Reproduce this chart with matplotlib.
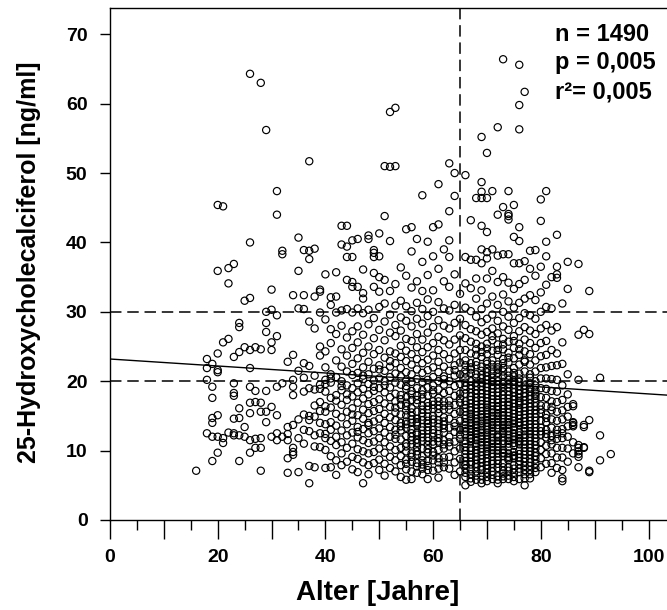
import matplotlib
matplotlib.use('Agg')
import matplotlib.pyplot as plt

plt.rcParams['font.family'] = ['Liberation Sans', 'DejaVu Sans']
plt.rcParams['font.weight'] = 'bold'

# Alter in Jahren (ganzzahlig) und die 25-OH-D Werte je Alter
alter = [16, 18, 19, 20, 21, 22, 23, 24, 25, 26, 27, 28, 29, 30, 31, 32, 33, 34, 35,
         36, 37, 38, 39, 40, 41, 42, 43, 44, 45, 46, 47, 48, 49, 50, 51, 52, 53, 54,
         55, 56, 57, 58, 59, 60, 61, 62, 63, 64, 65, 66, 67, 68, 69, 70, 71, 72, 73,
         74, 75, 76, 77, 78, 79, 80, 81, 82, 83, 84, 85, 86, 87, 88, 89, 91, 93]

vitd = [
    [7.1],
    [23.2, 21.9, 20.2, 12.5],
    [22.5, 19.2, 17.6, 14.7, 14.0, 12.0, 8.5],
    [45.4, 35.9, 24.0, 21.6, 21.3, 15.1, 12.0, 9.7],
    [45.2, 25.6, 11.8, 11.1],
    [36.3, 34.1, 26.1, 12.6],
    [36.9, 23.5, 19.7, 18.3, 17.9, 14.6, 12.5, 12.2],
    [28.4, 27.8, 24.2, 16.1, 14.7, 12.2, 8.5],
    [31.6, 24.9, 12.0, 13.4],
    [64.3, 40.0, 32.0, 24.5, 21.9, 19.2, 16.9, 15.4, 11.5, 9.7],
    [24.9, 18.6, 17.0, 11.7, 10.4],
    [63.0, 24.6, 16.9, 15.6, 11.8, 10.4, 7.1],
    [56.2, 30.0, 28.4, 27.1, 18.6, 15.6, 14.1],
    [33.2, 30.3, 25.6, 24.5, 16.3, 12.0],
    [47.4, 44.0, 29.5, 26.5, 19.2, 15.1, 12.5, 11.5],
    [38.8, 38.3, 19.7, 12.0],
    [22.8, 13.4, 12.4, 11.5, 8.9, 6.8],
    [32.4, 23.8, 20.2, 19.2, 18.0, 13.7, 9.8, 9.4, 10.4],
    [40.7, 35.9, 30.5, 21.5, 14.5, 11.8, 6.9],
    [38.9, 32.4, 30.4, 22.6, 20.5, 15.2, 13.0, 11.0, 18.5],
    [51.7, 38.8, 37.6, 28.6, 22.2, 19.0, 15.0, 7.8, 5.3, 12.8, 14.4],
    [39.1, 32.2, 27.6, 20.8, 18.8, 16.5, 14.9, 12.2, 7.6, 10.6],
    [33.2, 32.9, 29.9, 25.0, 23.7, 19.5, 18.9, 17.0, 14.0, 12.5, 10.5, 15.7],
    [35.4, 28.9, 24.3, 22.0, 20.2, 18.5, 16.4, 15.6, 13.8, 12.4, 11.8, 10.1, 7.5, 19.6],
    [32.1, 31.0, 27.5, 25.5, 21.0, 19.8, 17.6, 16.2, 14.1, 13.0, 11.4, 9.2, 7.6, 20.4],
    [35.7, 32.2, 29.9, 26.8, 23.0, 20.6, 18.0, 15.3, 13.6, 12.0, 10.8, 8.6, 6.5, 17.2],
    [42.4, 39.7, 30.2, 28.0, 24.6, 22.1, 20.0, 18.7, 16.6, 14.8, 12.9, 11.2, 9.6, 7.9, 19.3],
    [42.4, 39.4, 37.9, 34.6, 30.4, 26.3, 23.7, 21.4, 19.4, 17.3, 15.6, 13.8, 12.2, 10.4, 8.4, 18.1],
    [40.3, 37.9, 34.3, 33.6, 29.9, 27.2, 24.8, 22.5, 20.9, 19.0, 17.8, 16.1, 14.3, 12.6, 11.0, 9.1, 7.3, 15.2],
    [40.5, 33.6, 30.5, 27.9, 25.6, 23.3, 21.2, 19.7, 18.4, 16.9, 15.1, 13.4, 11.9, 10.2, 8.8, 6.9, 12.7],
    [36.1, 32.7, 31.9, 29.8, 26.7, 24.1, 22.0, 20.3, 18.9, 17.5, 15.9, 14.6, 13.1, 11.5, 9.9, 8.3, 5.3, 20.8],
    [41.0, 40.5, 30.3, 28.2, 25.0, 22.8, 21.0, 19.6, 18.1, 16.7, 15.4, 14.0, 12.5, 11.1, 9.6, 7.9, 6.6, 13.7],
    [38.9, 38.5, 37.9, 35.6, 33.6, 29.1, 26.2, 23.9, 21.8, 20.1, 18.6, 17.0, 15.7, 14.2, 12.8, 11.3, 9.8, 8.2, 19.2],
    [41.3, 38.0, 35.0, 32.9, 30.7, 27.4, 24.5, 22.3, 20.4, 19.0, 17.4, 16.0, 14.6, 13.2, 11.8, 10.3, 8.7, 7.2, 21.7],
    [51.0, 43.8, 34.6, 31.2, 28.6, 25.9, 23.4, 21.5, 20.0, 18.4, 16.8, 15.3, 14.0, 12.6, 11.2, 9.7, 8.1, 6.4, 19.4],
    [58.8, 50.9, 40.2, 33.0, 29.6, 27.0, 24.3, 22.1, 20.6, 19.1, 17.7, 16.3, 14.8, 13.4, 12.0, 10.6, 9.1, 7.5, 22.9],
    [59.4, 51.0, 34.0, 30.9, 28.1, 26.5, 24.0, 22.6, 21.1, 19.8, 18.2, 17.1, 15.5, 14.4, 13.0, 11.7, 10.1, 8.6, 7.0, 16.2, 12.3],
    [36.4, 31.6, 29.2, 27.3, 25.1, 23.5, 21.9, 20.7, 19.5, 18.0, 16.6, 15.2, 14.0, 12.9, 11.6, 10.4, 9.2, 7.9, 6.2, 13.5, 17.4],
    [41.9, 35.2, 30.8, 28.7, 26.1, 24.4, 22.9, 21.3, 20.1, 18.9, 17.7, 16.4, 15.1, 14.2, 13.3, 12.1, 11.0, 9.9, 8.7, 7.3, 5.8, 19.3, 15.8],
    [42.2, 38.7, 33.5, 30.1, 27.9, 25.8, 23.9, 22.4, 21.0, 19.9, 18.6, 17.3, 16.1, 15.0, 14.0, 13.1, 12.0, 10.9, 9.6, 8.4, 7.0, 5.9, 14.5, 11.5],
    [40.5, 34.4, 31.3, 29.0, 26.8, 24.9, 23.2, 21.7, 20.3, 19.0, 17.9, 16.8, 15.6, 14.6, 13.6, 12.6, 11.6, 10.5, 9.4, 8.2, 6.8, 13.9, 9.9, 12.3],
    [46.8, 37.2, 33.0, 30.4, 28.3, 26.0, 24.2, 22.6, 21.2, 19.9, 18.7, 17.5, 16.5, 15.4, 14.4, 13.4, 12.4, 11.4, 10.3, 9.2, 8.0, 6.6, 15.9, 11.9, 7.4],
    [40.1, 35.3, 31.8, 29.4, 27.0, 24.9, 23.1, 21.6, 20.2, 19.1, 17.9, 16.9, 15.9, 14.9, 13.9, 12.9, 11.9, 10.8, 9.7, 8.5, 7.2, 5.9, 14.3, 10.2],
    [42.2, 38.0, 33.1, 30.0, 27.8, 25.5, 23.7, 22.0, 20.6, 19.4, 18.2, 17.1, 16.0, 15.0, 14.0, 13.0, 12.0, 10.9, 9.8, 8.6, 7.1, 18.7, 11.3],
    [48.4, 42.6, 36.2, 31.4, 28.8, 26.4, 24.5, 22.8, 21.3, 20.0, 18.8, 17.6, 16.5, 15.4, 14.4, 13.4, 12.4, 11.3, 10.1, 8.9, 7.4, 6.1, 16.0],
    [39.0, 34.4, 30.5, 28.0, 25.9, 23.9, 22.1, 20.7, 19.5, 18.3, 17.1, 15.9, 14.8, 13.7, 12.6, 11.5, 10.3, 9.0, 7.6, 20.3, 13.2],
    [51.4, 44.5, 40.3, 37.9, 33.6, 30.2, 27.6, 25.3, 23.2, 21.5, 20.0, 18.6, 17.2, 15.9, 14.6, 13.3, 12.0, 10.6, 9.1, 7.4, 16.5, 11.2],
    [50.0, 46.7, 35.4, 31.0, 28.4, 26.0, 24.0, 22.3, 20.8, 19.3, 17.9, 16.6, 15.3, 14.0, 12.7, 11.3, 9.9, 8.3, 6.5, 21.6, 13.5],
    [32.6, 29.0, 26.6, 24.5, 22.7, 21.0, 19.6, 18.2, 16.9, 15.6, 14.3, 13.0, 11.7, 10.3, 8.8, 7.0, 17.5, 12.3],
    [49.7, 37.9, 34.1, 30.6, 28.1, 26.2, 24.5, 23.0, 21.6, 20.4, 19.3, 18.2, 17.1, 16.1, 15.1, 14.1, 13.2, 12.3,
     11.4, 10.5, 9.5, 8.5, 7.4, 6.2, 5.0, 19.8, 15.6, 12.8, 10.0, 8.0],
    [43.2, 37.5, 33.4, 30.1, 27.5, 25.7, 24.0, 22.6, 21.2, 20.0, 18.9, 17.8, 16.8, 15.8, 14.9, 14.0, 13.1, 12.2,
     11.3, 10.4, 9.4, 8.4, 7.3, 5.5, 22.0, 18.3, 16.2, 13.6, 11.8, 9.0, 6.6],
    [46.4, 37.5, 34.8, 31.9, 29.3, 27.2, 25.4, 23.8, 22.3, 21.0, 19.8, 18.7, 17.6, 16.6, 15.6, 14.6, 13.7, 12.8,
     11.9, 11.0, 10.1, 9.1, 8.1, 7.0, 5.8, 20.5, 17.1, 14.2, 12.4, 10.6, 8.7, 24.6],
    [55.2, 48.7, 47.3, 46.4, 42.4, 39.0, 37.0, 33.1, 30.4, 28.5, 26.7, 25.0, 23.5, 22.1, 20.9, 19.8, 18.7, 17.7,
     16.7, 15.7, 14.8, 13.9, 13.0, 12.1, 11.2, 10.3, 9.3, 8.3, 7.2, 5.3, 21.5, 18.2, 15.2, 12.6, 10.8, 8.8, 6.4, 24.2],
    [52.9, 46.4, 41.5, 38.6, 37.7, 34.8, 31.2, 29.0, 27.1, 25.4, 23.9, 22.5, 21.3, 20.2, 19.1, 18.1, 17.1, 16.2,
     15.3, 14.4, 13.5, 12.6, 11.7, 10.8, 9.9, 8.9, 7.9, 6.8, 5.6, 20.7, 17.6, 14.8, 12.2, 9.5, 7.4, 24.7, 22.9, 16.6],
    [47.4, 39.0, 35.9, 32.2, 29.6, 27.6, 25.9, 24.4, 23.0, 21.7, 20.5, 19.4, 18.4, 17.4, 16.4, 15.5, 14.6, 13.7,
     12.8, 11.9, 11.0, 10.1, 9.1, 8.1, 7.0, 5.9, 21.1, 18.9, 15.9, 13.3, 10.5, 8.5, 26.5, 19.9, 14.1],
    [56.6, 44.0, 38.1, 34.3, 31.0, 28.7, 26.9, 25.3, 23.8, 22.4, 21.2, 20.0, 18.9, 17.9, 16.9, 15.9, 15.0, 14.1,
     13.2, 12.3, 11.4, 10.5, 9.6, 8.6, 7.5, 6.3, 5.3, 20.6, 17.3, 14.6, 12.0, 9.1, 24.5, 22.0, 16.3, 11.0],
    [66.4, 45.1, 38.3, 35.0, 32.5, 30.0, 27.9, 26.1, 24.6, 23.2, 21.9, 20.7, 19.6, 18.5, 17.5, 16.5, 15.5, 14.6,
     13.7, 12.8, 11.9, 11.0, 10.1, 9.2, 8.2, 7.1, 5.9, 21.4, 18.0, 15.1, 12.5, 9.6, 6.7, 25.3, 19.2, 13.3],
    [47.4, 44.1, 43.8, 43.3, 38.3, 34.2, 31.5, 29.3, 27.4, 25.7, 24.1, 22.7, 21.4, 20.2, 19.1, 18.0, 17.0, 16.0,
     15.0, 14.1, 13.2, 12.3, 11.4, 10.5, 9.6, 8.6, 7.6, 6.4, 20.8, 17.5, 14.5, 11.8, 8.9, 23.4, 16.6],
    [45.4, 40.8, 37.0, 33.3, 30.6, 28.4, 26.5, 24.8, 23.3, 21.9, 20.7, 19.5, 18.4, 17.3, 16.3, 15.3, 14.3, 13.4,
     12.5, 11.6, 10.7, 9.8, 8.9, 7.9, 6.8, 5.6, 21.2, 17.8, 14.8, 12.0, 9.2, 25.8, 19.9],
    [65.6, 59.8, 56.3, 42.2, 40.2, 37.0, 34.0, 31.3, 29.1, 27.2, 25.4, 23.8, 22.4, 21.1, 19.9, 18.7, 17.6, 16.6,
     15.6, 14.6, 13.6, 12.7, 11.8, 10.9, 10.0, 9.0, 8.0, 6.9, 20.4, 17.1, 14.1, 11.4, 8.5, 24.6, 16.1],
    [61.7, 37.3, 34.6, 31.9, 29.8, 27.8, 26.0, 24.3, 22.8, 21.4, 20.1, 18.9, 17.8, 16.7, 15.7, 14.7, 13.7, 12.8,
     11.9, 10.9, 9.9, 8.9, 7.8, 6.6, 5.0, 19.4, 15.2, 12.3, 9.4, 23.0],
    [38.8, 36.2, 32.4, 29.5, 27.3, 25.5, 23.9, 22.4, 21.0, 19.7, 18.5, 17.4, 16.3, 15.3, 14.3, 13.3, 12.4, 11.4,
     10.4, 9.4, 8.3, 7.2, 6.0, 17.9, 14.8, 11.9, 8.8, 20.5],
    [38.9, 35.2, 31.7, 29.0, 26.8, 24.8, 23.0, 21.4, 20.0, 18.7, 17.5, 16.4, 15.3, 14.3, 13.3, 12.3, 11.3, 10.3,
     9.2, 8.1, 6.9, 16.9, 13.8, 10.8],
    [46.2, 43.1, 36.5, 32.8, 30.0, 27.6, 25.5, 23.6, 21.9, 20.4, 19.0, 17.7, 16.5, 15.4, 14.3, 13.3, 12.3, 11.2,
     10.1, 8.9, 7.6, 15.9, 12.8],
    [47.4, 40.1, 38.0, 33.9, 30.7, 28.1, 25.8, 23.8, 22.0, 20.4, 18.9, 17.6, 16.4, 15.2, 14.1, 13.0, 11.9, 10.7,
     9.5, 8.1, 14.7, 12.4],
    [35.0, 30.5, 27.3, 24.5, 22.2, 20.3, 18.6, 17.1, 15.8, 14.5, 13.3, 12.1, 10.9, 9.6, 8.2, 6.8, 16.3, 11.5],
    [41.1, 36.5, 35.4, 34.9, 27.8, 24.0, 22.3, 20.2, 18.5, 17.0, 15.6, 14.3, 13.0, 11.7, 10.4, 9.0, 7.5, 12.4],
    [31.2, 25.6, 22.5, 19.4, 17.3, 15.8, 14.5, 13.1, 11.8, 10.4, 9.0, 7.2, 6.0, 5.6, 12.5],
    [37.2, 33.3, 21.0, 18.1, 16.3, 14.9, 13.5, 12.0, 10.3, 8.4],
    [16.7, 16.4, 14.1, 14.0, 13.7, 13.5, 11.2, 9.6],
    [36.9, 26.7, 20.2, 10.8, 10.4, 9.9, 9.5, 9.1, 7.6],
    [27.4, 13.4, 13.7, 10.4, 10.5],
    [33.0, 26.8, 14.4, 6.9, 7.1],
    [20.5, 12.2, 8.6],
    [9.5],
]

# weitere Werte im dichten Kern (Alter 55-62 und 66-79)
alter_kern = [55, 56, 57, 58, 59, 60, 61, 62,
              66, 67, 68, 69, 70, 71, 72, 73, 74, 75, 76, 77, 78, 79]
vitd_kern = [
    [8.1, 10.6, 13.8, 16.9],
    [9.1, 12.5, 15.5, 18.1],
    [7.7, 11.1, 14.1, 17.3],
    [8.6, 12.9, 14.9, 18.1],
    [7.8, 11.4, 13.4, 16.4],
    [9.3, 12.5, 14.5, 16.6],
    [8.3, 11.8, 13.9, 17.1],
    [8.3, 10.9, 14.2, 16.5],
    [6.8, 9.0, 11.0, 13.7, 16.6, 18.8, 21.1, 7.9, 14.6, 22.3],
    [6.0, 8.0, 10.0, 12.7, 14.5, 17.3, 19.4, 21.7, 15.3, 11.7],
    [6.4, 7.6, 9.6, 11.5, 13.3, 15.1, 16.1, 18.2, 19.3, 22.8],
    [5.8, 7.7, 9.8, 11.7, 13.5, 14.3, 16.2, 17.2, 19.3, 20.4],
    [6.2, 8.4, 10.3, 11.2, 13.0, 14.0, 15.8, 18.6, 19.6, 21.8],
    [6.5, 7.5, 9.6, 11.4, 12.4, 15.0, 16.9, 17.9, 20.0, 22.4],
    [5.8, 8.1, 10.0, 11.9, 13.7, 15.4, 16.4, 18.4, 19.5, 21.7],
    [6.3, 7.6, 9.7, 11.4, 13.2, 14.1, 16.0, 17.0, 19.9, 22.6],
    [5.9, 7.1, 9.1, 11.0, 12.8, 13.7, 15.5, 16.5, 18.5, 19.6],
    [6.2, 7.4, 9.3, 11.1, 13.0, 13.9, 15.8, 16.8, 18.9, 20.1],
    [5.9, 7.4, 9.5, 11.3, 12.2, 14.0, 15.1, 16.9, 18.2, 19.3],
    [6.0, 7.2, 8.4, 10.4, 11.3, 13.2, 14.2, 16.2, 17.2, 18.3],
    [6.6, 7.8, 9.9, 10.9, 12.8, 13.8, 15.8, 16.8, 18.9, 19.1],
    [7.5, 8.7, 9.7, 11.8, 12.8, 14.8, 15.8, 17.9, 18.2, 19.4],
]

grenzwerte = [20, 30]
alters_grenze = 65
reg_achse = 23.2
reg_steigung = -0.0503
statistik = ['n = 1490', 'p = 0,005', 'r²= 0,005']

x_vals = [a for a, werte in zip(alter + alter_kern, vitd + vitd_kern) for _ in werte]
y_vals = [w for werte in vitd + vitd_kern for w in werte]

W, H = 667, 610
fig = plt.figure(figsize=(W / 100, H / 100), dpi=100)
ax = fig.add_axes([110 / W, 90 / H, 557 / W, 512 / H])
xmax = 557 / 5.385
ymax = 512 / 6.939
ax.set_xlim(0, xmax)
ax.set_ylim(0, ymax)

ax.scatter(x_vals, y_vals, s=27, facecolors='none', edgecolors='black',
           linewidths=0.85, zorder=3)

for g in grenzwerte:
    ax.axhline(g, color='black', lw=1.1, dashes=(7.5, 3.8), zorder=2)
ax.axvline(alters_grenze, color='black', lw=1.1, dashes=(7.5, 3.8), zorder=2)
ax.plot([0, xmax], [reg_achse, reg_achse + reg_steigung * xmax], color='black', lw=1.0, zorder=2)

for i, t in enumerate(statistik):
    ax.text(82.6, 69.1 - i * 4.15, t, fontsize=17, fontweight='bold', ha='left', va='baseline')

ax.spines['right'].set_visible(False)
for s in ['left', 'bottom', 'top']:
    ax.spines[s].set_linewidth(1.0)

ax.set_xticks(range(0, 101, 10))
ax.set_xticklabels([str(v) if v % 20 == 0 else '' for v in range(0, 101, 10)])
ax.set_xticks(range(5, 100, 10), minor=True)
ax.set_yticks(range(0, 71, 10))
ax.tick_params(axis='x', which='major', length=13.7, width=1.0, pad=7, labelsize=14)
ax.tick_params(axis='x', which='minor', length=7.2, width=1.0)
ax.tick_params(axis='y', length=7.2, width=1.0, pad=9, labelsize=14)

ax.set_xlabel('Alter [Jahre]', fontsize=20, fontweight='bold')
ax.xaxis.set_label_coords((378 - 110) / 557, -0.118)
ax.set_ylabel('25-Hydroxycholecalciferol [ng/ml]', fontsize=18, fontweight='bold')
ax.yaxis.set_label_coords((41 - 110) / 557, 0.503)

fig.savefig('out.png', dpi=100)
